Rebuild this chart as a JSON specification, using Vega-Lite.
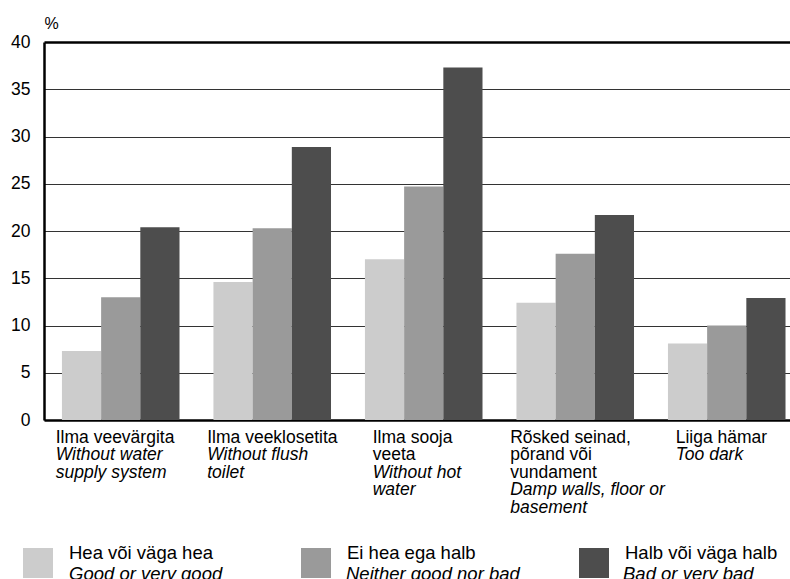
{
  "$schema": "https://vega.github.io/schema/vega-lite/v6.json",
  "width": 746,
  "height": 378,
  "autosize": {"type": "none"},
  "padding": {"left": 44, "top": 42, "right": 0, "bottom": 159},
  "background": "white",
  "config": {
    "view": {"stroke": null},
    "font": "Liberation Sans"
  },
  "data": {
    "values": [
      {"cat": "Ilma veevärgita|Without water\nsupply system", "group": "Hea või väga hea", "group_en": "Good or very good", "value": 7.3},
      {"cat": "Ilma veevärgita|Without water\nsupply system", "group": "Ei hea ega halb", "group_en": "Neither good nor bad", "value": 13.0},
      {"cat": "Ilma veevärgita|Without water\nsupply system", "group": "Halb või väga halb", "group_en": "Bad or very bad", "value": 20.4},
      {"cat": "Ilma veeklosetita|Without flush\ntoilet", "group": "Hea või väga hea", "group_en": "Good or very good", "value": 14.6},
      {"cat": "Ilma veeklosetita|Without flush\ntoilet", "group": "Ei hea ega halb", "group_en": "Neither good nor bad", "value": 20.3},
      {"cat": "Ilma veeklosetita|Without flush\ntoilet", "group": "Halb või väga halb", "group_en": "Bad or very bad", "value": 28.9},
      {"cat": "Ilma sooja\nveeta|Without hot\nwater", "group": "Hea või väga hea", "group_en": "Good or very good", "value": 17.0},
      {"cat": "Ilma sooja\nveeta|Without hot\nwater", "group": "Ei hea ega halb", "group_en": "Neither good nor bad", "value": 24.7},
      {"cat": "Ilma sooja\nveeta|Without hot\nwater", "group": "Halb või väga halb", "group_en": "Bad or very bad", "value": 37.3},
      {"cat": "Rõsked seinad,\npõrand või\nvundament|Damp walls, floor or\nbasement", "group": "Hea või väga hea", "group_en": "Good or very good", "value": 12.4},
      {"cat": "Rõsked seinad,\npõrand või\nvundament|Damp walls, floor or\nbasement", "group": "Ei hea ega halb", "group_en": "Neither good nor bad", "value": 17.6},
      {"cat": "Rõsked seinad,\npõrand või\nvundament|Damp walls, floor or\nbasement", "group": "Halb või väga halb", "group_en": "Bad or very bad", "value": 21.7},
      {"cat": "Liiga hämar|Too dark", "group": "Hea või väga hea", "group_en": "Good or very good", "value": 8.1},
      {"cat": "Liiga hämar|Too dark", "group": "Ei hea ega halb", "group_en": "Neither good nor bad", "value": 10.0},
      {"cat": "Liiga hämar|Too dark", "group": "Halb või väga halb", "group_en": "Bad or very bad", "value": 12.9}
    ]
  },
  "layer": [
    {
      "mark": {"type": "bar"},
      "encoding": {
        "x": {
          "field": "cat", "type": "nominal", "sort": null,
          "scale": {"paddingInner": 0.224, "paddingOuter": 0.074, "align": 0.8},
          "axis": {
            "orient": "bottom", "title": null,
            "domain": true, "domainColor": "black", "domainWidth": 2.5,
            "ticks": false, "grid": false,
            "labelAngle": 0, "labelAlign": "left", "labelBaseline": "top",
            "labelFontSize": 17.5, "labelLineHeight": 17.6, "labelPadding": 8,
            "labelColor": "black", "labelLimit": 400, "labelOverlap": false, "labelBound": false,
            "labelOffset": {"condition": {"test": "indexof(datum.value, 'Ilma sooja') === 0 || indexof(datum.value, 'Liiga') === 0", "value": -51}, "value": -65},
            "labelExpr": "split(split(datum.value, '|')[0], '\\n')"
          }
        },
        "xOffset": {"field": "group", "type": "nominal", "sort": ["Hea või väga hea", "Ei hea ega halb", "Halb või väga halb"]},
        "y": {
          "field": "value", "type": "quantitative",
          "scale": {"domain": [0, 40], "nice": false},
          "axis": {
            "title": "%", "titleAngle": 0, "titleAlign": "left", "titleBaseline": "alphabetic",
            "titleX": 0, "titleY": -14, "titleFontSize": 16, "titleFontWeight": "normal", "titleColor": "black",
            "values": [0, 5, 10, 15, 20, 25, 30, 35, 40],
            "grid": true,
            "gridColor": {"condition": {"test": "datum.value === 40", "value": "black"}, "value": "#333333"},
            "gridWidth": {"condition": {"test": "datum.value === 40", "value": 2.5}, "value": 1},
            "ticks": false,
            "domainColor": "black", "domainWidth": 2.5,
            "labelFontSize": 17.5, "labelPadding": 14, "labelColor": "black"
          }
        },
        "color": {
          "field": "group", "type": "nominal",
          "scale": {"domain": ["Hea või väga hea", "Ei hea ega halb", "Halb või väga halb"], "range": ["#cccccc", "#9a9a9a", "#4d4d4d"]},
          "legend": {
            "orient": "none", "legendX": -21, "legendY": 506, "title": null,
            "direction": "horizontal", "columns": 3, "gridAlign": "all", "columnPadding": 79,
            "symbolType": "square", "symbolSize": 900, "symbolStrokeWidth": 0, "symbolOpacity": 1,
            "labelFontSize": 18.5, "labelLineHeight": 17, "labelOffset": 16, "labelLimit": 400,
            "labelBaseline": "bottom",
            "labelColor": "black", "labelExpr": "[datum.label, '\u00a0']", "padding": 0
          }
        }
      }
    },
    {
      "mark": {"type": "rule", "opacity": 0},
      "encoding": {
        "x": {
          "field": "cat", "type": "nominal", "sort": null,
          "axis": {
            "orient": "bottom", "title": null,
            "domain": false, "ticks": false, "grid": false,
            "labelAngle": 0, "labelAlign": "left", "labelBaseline": "top",
            "labelFontSize": 17.5, "labelLineHeight": 17.6, "labelFontStyle": "italic",
            "labelPadding": {"expr": "8 + 17.6 * length(split(split(datum.value, '|')[0], '\\n'))"},
            "labelColor": "black", "labelLimit": 400, "labelOverlap": false, "labelBound": false,
            "labelOffset": {"condition": {"test": "indexof(datum.value, 'Ilma sooja') === 0 || indexof(datum.value, 'Liiga') === 0", "value": -51}, "value": -65},
            "labelExpr": "split(split(datum.value, '|')[1], '\\n')"
          }
        },
        "stroke": {
          "field": "group_en", "type": "nominal",
          "scale": {"domain": ["Good or very good", "Neither good nor bad", "Bad or very bad"], "range": ["#cccccc", "#9a9a9a", "#4d4d4d"]},
          "legend": {
            "orient": "none", "legendX": -21, "legendY": 506, "title": null,
            "direction": "horizontal", "columns": 3, "gridAlign": "all", "columnPadding": 57,
            "symbolType": "square", "symbolSize": 900, "symbolStrokeWidth": 0, "symbolOpacity": 0,
            "symbolFillColor": "transparent",
            "labelFontSize": 18.5, "labelLineHeight": 17, "labelOffset": 16, "labelLimit": 400,
            "labelBaseline": "bottom", "labelFontStyle": "italic",
            "labelColor": "black", "labelExpr": "['\u00a0', datum.label]", "padding": 0
          }
        }
      }
    }
  ],
  "resolve": {"axis": {"x": "independent"}}
}
